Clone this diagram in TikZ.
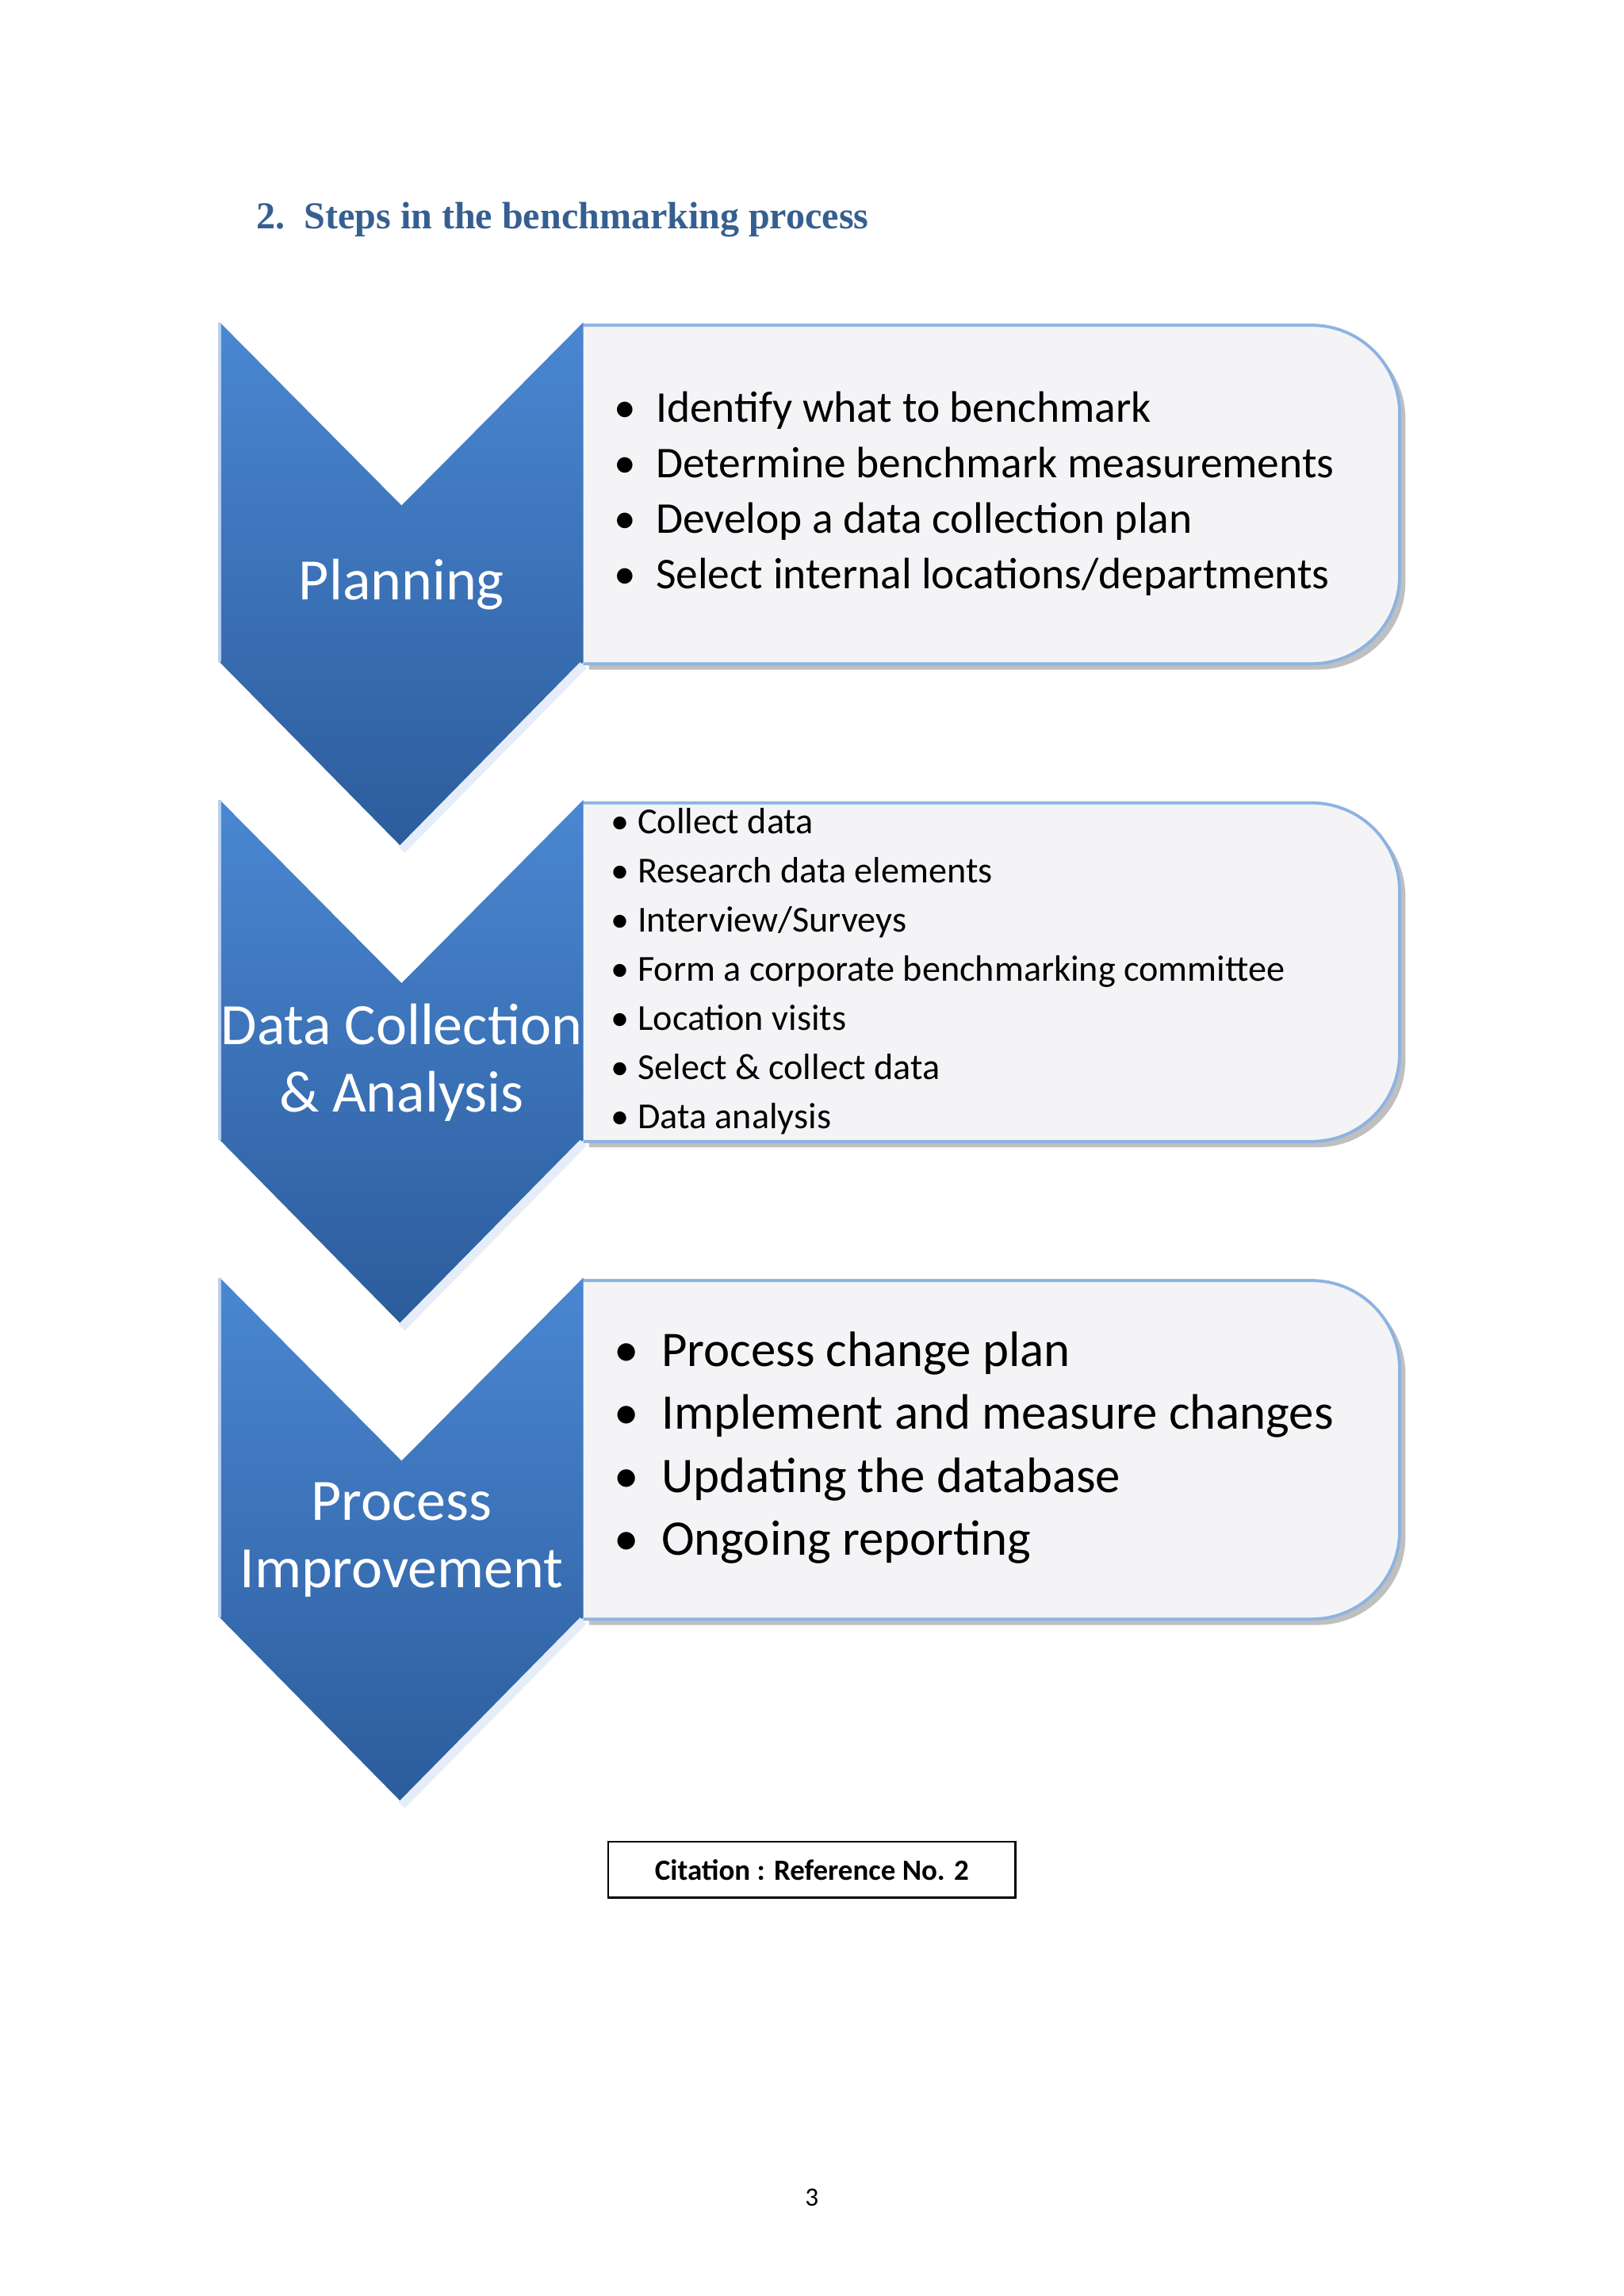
\documentclass[tikz,border=0pt]{standalone}
\usepackage{fontspec}
\setmainfont{Carlito}
\newfontfamily\titlefont{Liberation Serif}
\begin{document}
\begin{tikzpicture}[x=0.5pt,y=-0.5pt]
\definecolor{titleblue}{HTML}{365F91}
\definecolor{chevtop}{HTML}{4A87D2}
\definecolor{chevbot}{HTML}{2C5C9C}
\definecolor{boxfill}{HTML}{F4F4F7}
\definecolor{boxline}{HTML}{8DB3E2}
\tikzset{
  chev/.style={top color=chevtop,bottom color=chevbot,draw=none},
  hilite/.style={draw=white!85!chevtop,line width=3pt},
  stepbox/.style={fill=boxfill,draw=boxline,line width=1pt},
  shad/.style={fill=black!25,draw=none},
  chevtext/.style={text=white,font=\fontsize{20}{23}\selectfont,align=center},
  bul/.style={anchor=west,align=left,text=black}
}
\useasboundingbox (0,0) rectangle (1108,1567);
\fill[white] (0,0) rectangle (1108,1567);
\node[anchor=west,text=titleblue,font=\titlefont\bfseries\fontsize{13}{15}\selectfont] (title) at (168,150) {2.\ \ Steps in the benchmarking process};
\foreach \o/\n in {0/a,326/b,652/c}{
  \begin{scope}[yshift=-0.5*\o pt]
  \fill[shad] (402,226) [rounded corners=30]-- (959,226) -- (959,457) [sharp corners]-- (402,457) -- cycle;
  \path[stepbox] (398,222) [rounded corners=30]-- (955,222) -- (955,453) [sharp corners]-- (398,453);
  \fill[boxfill] (398,222) [rounded corners=30]-- (955,222) -- (955,453) [sharp corners]-- (398,453) -- cycle;
  \draw[boxline,line width=1pt] (398,222) [rounded corners=30]-- (955,222) -- (955,453) [sharp corners]-- (398,453);
  \path[chev] (150,220) -- (274,345) -- (398,220) -- (398,452) -- (274,578) -- (150,452) -- cycle;
  \draw[hilite] (398,454) -- (274,580);
  \draw[white!60!chevtop,line width=1pt] (150,220) -- (150,452);
  \end{scope}
}
\node[chevtext] (p1) at (274,399) {Planning};
\node[chevtext] (p2) at (274,725) {Data Collection\\\& Analysis};
\node[chevtext] (p3) at (274,1051) {Process\\Improvement};
\node[bul,font=\fontsize{15}{19}\selectfont] (l1) at (412,337) {\textbullet\ \ Identify what to benchmark\\\textbullet\ \ Determine benchmark measurements\\\textbullet\ \ Develop a data collection plan\\\textbullet\ \ Select internal locations/departments};
\node[bul,font=\fontsize{12.5}{16.75}\selectfont] (l2) at (410,663) {\textbullet\ Collect data\\\textbullet\ Research data elements\\\textbullet\ Interview/Surveys\\\textbullet\ Form a corporate benchmarking committee\\\textbullet\ Location visits\\\textbullet\ Select \& collect data\\\textbullet\ Data analysis};
\node[bul,font=\fontsize{17}{21.5}\selectfont] (l3) at (412,988) {\textbullet\ \ Process change plan\\\textbullet\ \ Implement and measure changes\\\textbullet\ \ Updating the database\\\textbullet\ \ Ongoing reporting};
\node[draw=black,line width=0.7pt,minimum width=139pt,minimum height=19pt,font=\bfseries\fontsize{10}{12}\selectfont] (cit) at (554,1276) {Citation : Reference No. 2};
\node[font=\fontsize{9}{11}\selectfont] (pg) at (554,1500) {3};
\end{tikzpicture}
\end{document}
